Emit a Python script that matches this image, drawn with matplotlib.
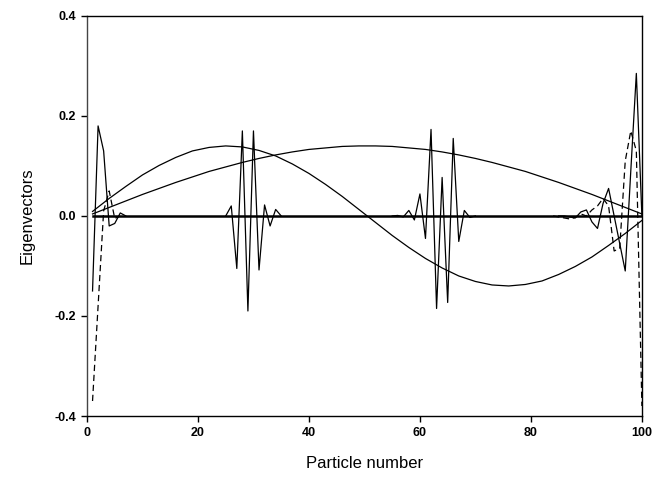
import numpy as np
import matplotlib
matplotlib.use("Agg")
import matplotlib.pyplot as plt

plt.rcParams['font.family'] = ['Liberation Sans', 'DejaVu Sans']

# extended modes (read every 3 particles)
n_ext = [1, 4, 7, 10, 13, 16, 19, 22, 25, 28, 31, 34, 37, 40, 43, 46, 49,
         52, 55, 58, 61, 64, 67, 70, 73, 76, 79, 82, 85, 88, 91, 94, 97, 100]
half_wave = [0.004, 0.017, 0.030, 0.043, 0.055, 0.067, 0.078, 0.089, 0.098, 0.107,
             0.115, 0.122, 0.128, 0.133, 0.136, 0.139, 0.140,
             0.140, 0.139, 0.136, 0.133, 0.128, 0.122, 0.115, 0.107, 0.098,
             0.089, 0.078, 0.067, 0.055, 0.043, 0.030, 0.017, 0.004]
full_wave = [0.009, 0.035, 0.059, 0.082, 0.101, 0.117, 0.130, 0.137, 0.140, 0.138,
             0.131, 0.120, 0.104, 0.085, 0.063, 0.039, 0.013,
             -0.013, -0.039, -0.063, -0.085, -0.104, -0.120, -0.131, -0.138, -0.140,
             -0.137, -0.130, -0.117, -0.101, -0.082, -0.059, -0.035, -0.009]

# localized modes
left_n = [1, 2, 3, 4, 5, 6, 7]
left_solid = [-0.15, 0.18, 0.13, -0.02, -0.015, 0.006, 0.0]
left_dash_n = [1, 2, 3, 4, 5, 6]
left_dash = [-0.37, -0.18, 0.01, 0.05, -0.005, 0.0]

mode2_n = list(range(25, 36))
mode2 = [0.0, 0.02, -0.105, 0.17, -0.19, 0.17, -0.108, 0.022, -0.02, 0.013, 0.0]

mode3_n = list(range(55, 71))
mode3 = [0.0, 0.001, -0.002, 0.011, -0.008, 0.044, -0.045, 0.173, -0.185, 0.077,
         -0.173, 0.155, -0.051, 0.011, -0.003, 0.0]

right_n = list(range(85, 101))
right_solid = [0.0, 0.0, -0.002, -0.004, 0.008, 0.012, -0.012, -0.025, 0.025, 0.055,
               0.0, -0.055, -0.11, 0.09, 0.285, 0.0]
right_dash_n = list(range(84, 101))
right_dash = [0.0, -0.002, -0.004, -0.006, -0.003, 0.004, 0.0, 0.012, 0.02, 0.035,
              0.02, -0.07, -0.065, 0.11, 0.17, 0.13, -0.38]

zero_n = [1, 100]
zero_v = [0.0, 0.0]

fig = plt.figure(figsize=(6.57, 4.83), dpi=100)
ax = fig.add_axes([0.1324, 0.1387, 0.8446, 0.8284])

lw = 0.9
ax.plot(n_ext, half_wave, color='black', lw=lw)
ax.plot(n_ext, full_wave, color='black', lw=lw)
ax.plot(left_n, left_solid, color='black', lw=lw)
ax.plot(left_dash_n, left_dash, color='black', lw=lw, ls=(0, (5, 3)))
ax.plot(mode2_n, mode2, color='black', lw=lw)
ax.plot(mode3_n, mode3, color='black', lw=lw)
ax.plot(right_n, right_solid, color='black', lw=lw)
ax.plot(right_dash_n, right_dash, color='black', lw=lw, ls=(0, (5, 3)))
ax.plot(zero_n, zero_v, color='black', lw=1.8)

ax.set_xlim(0, 100)
ax.set_ylim(-0.4, 0.4)
ax.set_xticks([0, 20, 40, 60, 80, 100])
ax.set_yticks([-0.4, -0.2, 0.0, 0.2, 0.4])
ax.set_yticklabels(['-0.4', '-0.2', '0.0', '0.2', '0.4'])
ax.tick_params(direction='out', length=4, width=1, labelsize=9, pad=4,
               top=False, right=False)
for lab in ax.get_xticklabels() + ax.get_yticklabels():
    lab.set_fontweight('bold')
for s in ax.spines.values():
    s.set_linewidth(1.0)
ax.spines['left'].set_color('#444444')

ax.set_xlabel('Particle number', fontsize=12, labelpad=12)
ax.set_ylabel('Eigenvectors', fontsize=12, labelpad=14)

fig.savefig('out.png', dpi=100)
